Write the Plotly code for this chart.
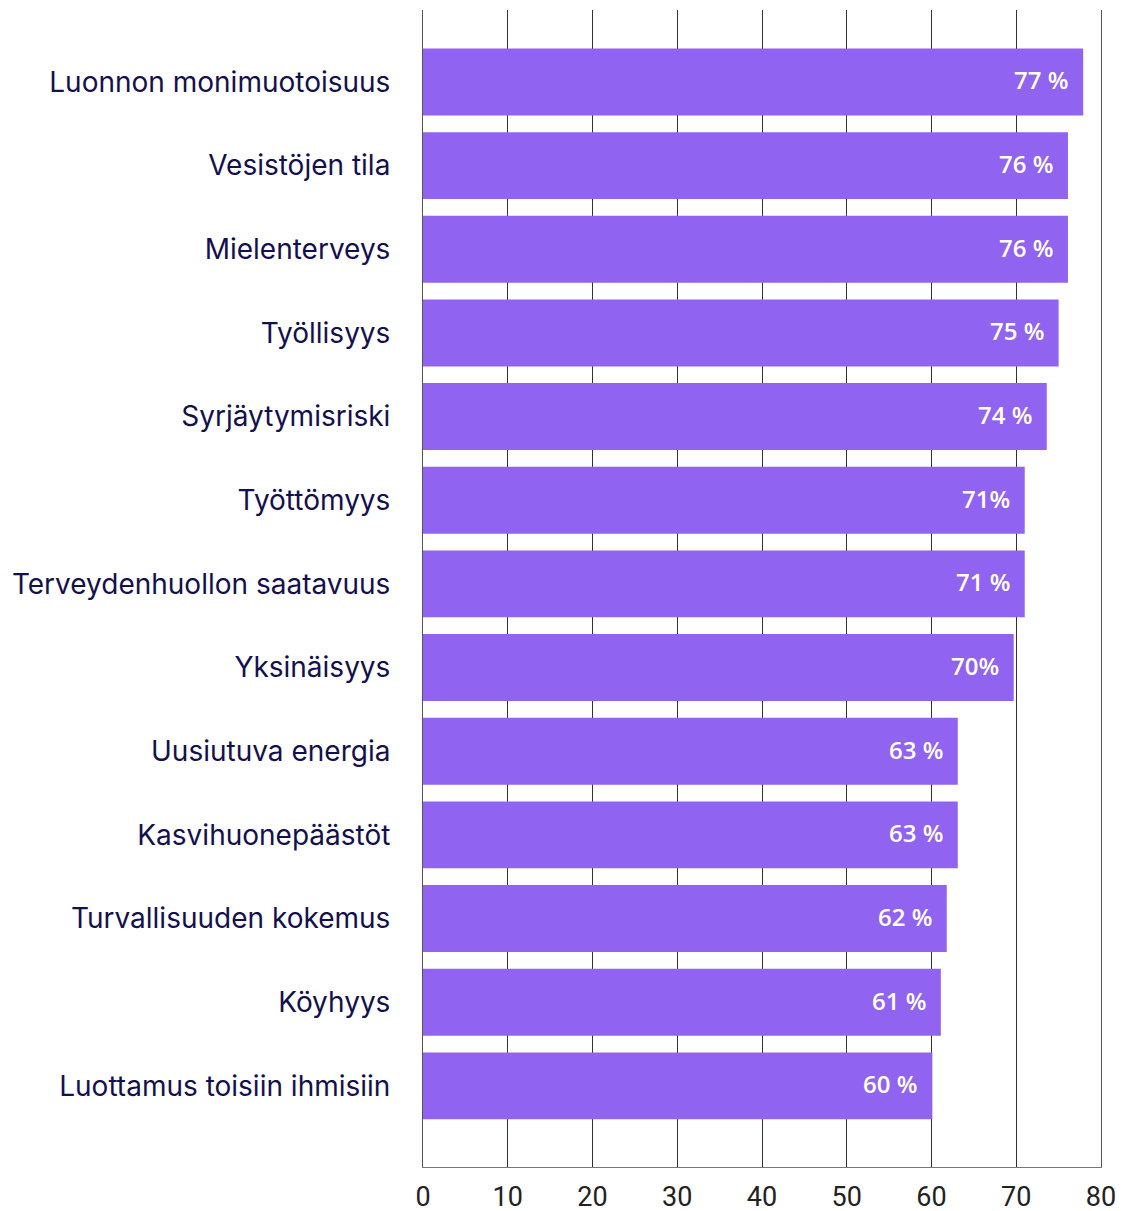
import plotly.graph_objects as go

categories = ["Luonnon monimuotoisuus", "Vesistöjen tila", "Mielenterveys", "Työllisyys",
              "Syrjäytymisriski", "Työttömyys", "Terveydenhuollon saatavuus", "Yksinäisyys",
              "Uusiutuva energia", "Kasvihuonepäästöt", "Turvallisuuden kokemus", "Köyhyys",
              "Luottamus toisiin ihmisiin"]
values = [77.9, 76.1, 76.1, 75.0, 73.6, 71.0, 71.0, 69.7, 63.1, 63.1, 61.8, 61.1, 60.1]
labels = ["77 %", "76 %", "76 %", "75 %", "74 %", "71%", "71 %", "70%", "63 %", "63 %",
          "62 %", "61 %", "60 %"]
x_ticks = [0, 10, 20, 30, 40, 50, 60, 70, 80]

fig = go.Figure()
fig.add_trace(go.Bar(
    x=values, y=categories, orientation="h",
    marker=dict(color="#9063F0", line=dict(width=0)),
    hoverinfo="skip",
))
for c, v, t in zip(categories, values, labels):
    fig.add_annotation(x=v, y=c, text=t, showarrow=False, xanchor="right",
                       xshift=-13, yshift=2,
                       font=dict(family="Open Sans", size=24, color="white", weight=600))

fig.update_layout(
    width=1126, height=1211,
    margin=dict(l=415, r=33, t=2, b=52),
    plot_bgcolor="white", paper_bgcolor="white",
    bargap=0.2, showlegend=False,
)
fig.update_xaxes(range=[0, 80], tickvals=x_ticks, showgrid=True, gridcolor="#333333",
                 gridwidth=1, zeroline=False, showline=True, linecolor="#777777",
                 linewidth=1, ticks="", ticklabelstandoff=6, automargin=False,
                 tickfont=dict(family="Roboto", size=27, color="#222222"))
fig.update_yaxes(range=[12.97, -0.86], showgrid=False, zeroline=False, showline=True,
                 mirror=True, linecolor="#555555", linewidth=1, automargin=False,
                 ticks="", ticklabelstandoff=26,
                 tickfont=dict(family="Inter, Roboto", size=28, color="#14104F"))
fig.write_html("out.html")
